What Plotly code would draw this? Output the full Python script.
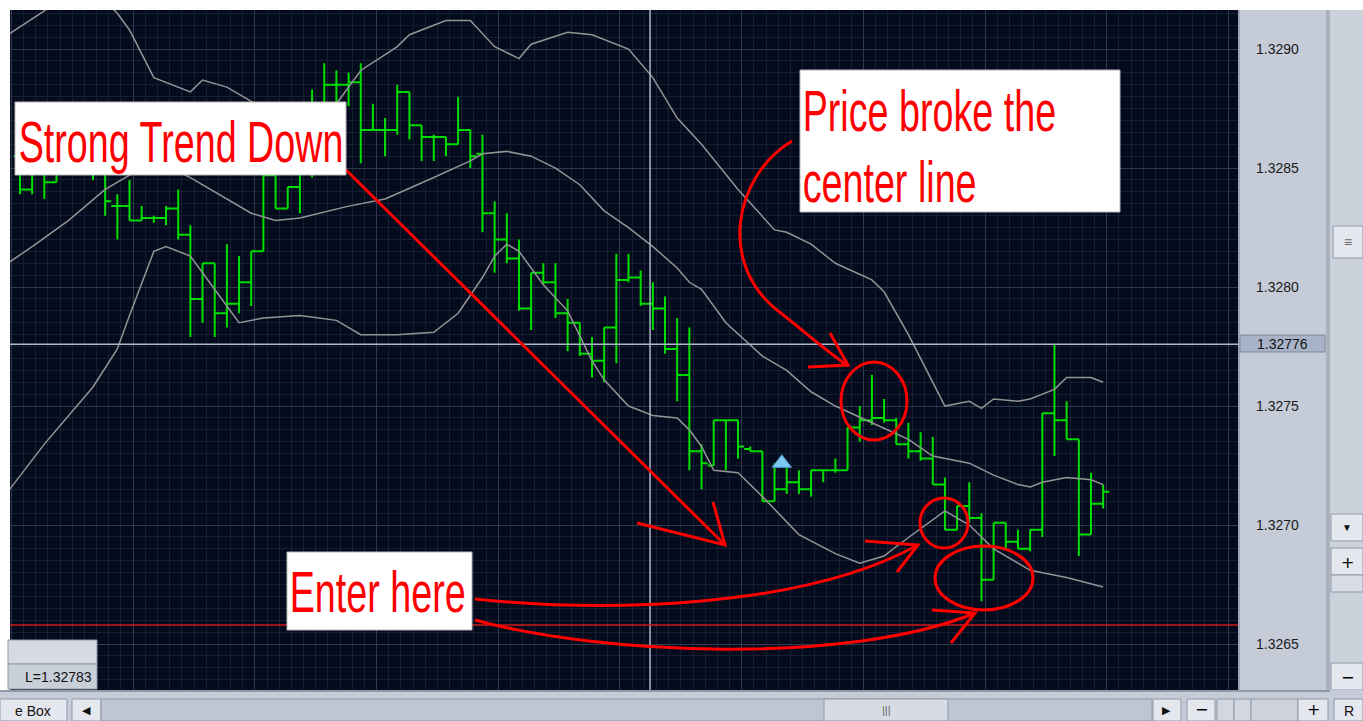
import plotly.graph_objects as go

# ---------------- data (prices) ----------------
bar_index = list(range(90))
opens = [1.32855, 1.32841, 1.32850, 1.32844, 1.32851, 1.32857, 1.32853, 1.32851, 1.32834, 1.32834,
         1.32828, 1.32829, 1.32829, 1.32833, 1.32822, 1.32795, 1.32810, 1.32789, 1.32793, 1.32802,
         1.32815, 1.32847, 1.32833, 1.32842, 1.32849, 1.32872, 1.32885, 1.32885, 1.32886, 1.32866,
         1.32866, 1.32866, 1.32882, 1.32868, 1.32863, 1.32863, 1.32860, 1.32866, 1.32856, 1.32831,
         1.32820, 1.32812, 1.32791, 1.32806, 1.32802, 1.32789, 1.32785, 1.32772, 1.32769, 1.32783,
         1.32803, 1.32804, 1.32793, 1.32791, 1.32774, 1.32763, 1.32731, 1.32725, 1.32744, 1.32744,
         1.32732, 1.32731, 1.32710, 1.32715, 1.32718, 1.32715, 1.32723, 1.32723, 1.32723, 1.32741,
         1.32744, 1.32745, 1.32744, 1.32734, 1.32731, 1.32728, 1.32717, 1.32698, 1.32708, 1.32703,
         1.32677, 1.32701, 1.32693, 1.32690, 1.32698, 1.32747, 1.32744, 1.32736, 1.32696, 1.32709]
highs = [1.32857, 1.32850, 1.32851, 1.32853, 1.32862, 1.32862, 1.32857, 1.32857, 1.32839, 1.32845,
         1.32834, 1.32830, 1.32834, 1.32841, 1.32826, 1.32810, 1.32810, 1.32818, 1.32813, 1.32815,
         1.32847, 1.32847, 1.32842, 1.32851, 1.32883, 1.32894, 1.32891, 1.32890, 1.32894, 1.32877,
         1.32871, 1.32885, 1.32882, 1.32868, 1.32864, 1.32863, 1.32880, 1.32866, 1.32864, 1.32836,
         1.32831, 1.32820, 1.32806, 1.32810, 1.32810, 1.32795, 1.32785, 1.32779, 1.32783, 1.32814,
         1.32814, 1.32807, 1.32802, 1.32796, 1.32787, 1.32783, 1.32734, 1.32744, 1.32744, 1.32744,
         1.32733, 1.32731, 1.32726, 1.32725, 1.32723, 1.32723, 1.32723, 1.32728, 1.32741, 1.32750,
         1.32763, 1.32753, 1.32745, 1.32743, 1.32739, 1.32737, 1.32720, 1.32708, 1.32718, 1.32705,
         1.32701, 1.32701, 1.32698, 1.32698, 1.32747, 1.32776, 1.32752, 1.32736, 1.32722, 1.32717]
lows = [1.32839, 1.32839, 1.32837, 1.32844, 1.32849, 1.32848, 1.32845, 1.32830, 1.32820, 1.32828,
        1.32828, 1.32827, 1.32826, 1.32820, 1.32779, 1.32785, 1.32779, 1.32783, 1.32789, 1.32792,
        1.32815, 1.32833, 1.32833, 1.32831, 1.32846, 1.32870, 1.32874, 1.32876, 1.32852, 1.32866,
        1.32855, 1.32864, 1.32862, 1.32853, 1.32853, 1.32855, 1.32860, 1.32850, 1.32823, 1.32806,
        1.32810, 1.32790, 1.32782, 1.32801, 1.32787, 1.32773, 1.32771, 1.32762, 1.32760, 1.32768,
        1.32802, 1.32792, 1.32782, 1.32772, 1.32752, 1.32723, 1.32715, 1.32725, 1.32723, 1.32728,
        1.32731, 1.32710, 1.32710, 1.32713, 1.32713, 1.32712, 1.32718, 1.32722, 1.32723, 1.32735,
        1.32742, 1.32743, 1.32734, 1.32728, 1.32727, 1.32717, 1.32698, 1.32698, 1.32701, 1.32668,
        1.32677, 1.32690, 1.32690, 1.32689, 1.32695, 1.32729, 1.32736, 1.32687, 1.32696, 1.32707]
closes = [1.32841, 1.32849, 1.32844, 1.32851, 1.32857, 1.32853, 1.32851, 1.32836, 1.32834, 1.32828,
          1.32829, 1.32829, 1.32833, 1.32822, 1.32795, 1.32810, 1.32789, 1.32793, 1.32802, 1.32815,
          1.32847, 1.32833, 1.32842, 1.32849, 1.32870, 1.32885, 1.32885, 1.32886, 1.32866, 1.32866,
          1.32866, 1.32882, 1.32868, 1.32863, 1.32863, 1.32860, 1.32866, 1.32855, 1.32831, 1.32820,
          1.32812, 1.32791, 1.32806, 1.32802, 1.32789, 1.32785, 1.32772, 1.32769, 1.32783, 1.32803,
          1.32804, 1.32793, 1.32791, 1.32774, 1.32763, 1.32731, 1.32726, 1.32744, 1.32744, 1.32733,
          1.32731, 1.32710, 1.32715, 1.32718, 1.32715, 1.32723, 1.32723, 1.32723, 1.32741, 1.32744,
          1.32745, 1.32744, 1.32734, 1.32731, 1.32728, 1.32717, 1.32698, 1.32708, 1.32703, 1.32677,
          1.32701, 1.32693, 1.32690, 1.32698, 1.32747, 1.32744, 1.32736, 1.32696, 1.32709, 1.32714]

upper_idx = [-1, 2, 4, 6, 8, 9, 11, 13, 14, 15, 17, 19, 22, 26, 28, 31, 32, 35, 37, 39,
             41, 42, 45, 47, 50, 52, 54, 56, 59, 62, 63, 65, 67, 70, 71, 73, 74, 75, 76, 78,
             79, 80, 82, 83, 85, 86, 88, 89]
upper_val = [1.32906, 1.32916, 1.32925, 1.32925, 1.32915, 1.32908, 1.32888, 1.32884, 1.32882, 1.32887,
             1.32884, 1.32878, 1.32871, 1.32877, 1.32891, 1.32901, 1.32906, 1.32912, 1.32912, 1.32901,
             1.32896, 1.32902, 1.32907, 1.32906, 1.32900, 1.32888, 1.32871, 1.32860, 1.32841, 1.32824,
             1.32823, 1.32818, 1.32810, 1.32803, 1.32798, 1.32780, 1.32770, 1.32760, 1.32750, 1.32752,
             1.32749, 1.32753, 1.32752, 1.32753, 1.32757, 1.32762, 1.32762, 1.32760]
mid_idx = [-1, 1, 4, 7, 9, 11, 14, 19, 21, 23, 27, 30, 34, 37, 38, 40, 42, 44, 46, 48,
           50, 52, 54, 55, 56, 58, 61, 63, 65, 67, 70, 73, 75, 78, 80, 82, 83, 84, 86, 88, 89]
mid_val = [1.32810, 1.32817, 1.32828, 1.32841, 1.32847, 1.32853, 1.32846, 1.32831, 1.32828, 1.32829,
           1.32834, 1.32837, 1.32846, 1.32853, 1.32856, 1.32857, 1.32855, 1.32850, 1.32843, 1.32832,
           1.32825, 1.32817, 1.32808, 1.32802, 1.32799, 1.32785, 1.32771, 1.32765, 1.32756, 1.32750,
           1.32743, 1.32736, 1.32729, 1.32726, 1.32721, 1.32717, 1.32716, 1.32718, 1.32720, 1.32719,
           1.32717]
lower_idx = [-1, 2, 6, 8, 9, 11, 12, 14, 15, 18, 20, 23, 26, 28, 31, 34, 36, 38, 39, 40,
             41, 43, 45, 47, 48, 50, 52, 54, 55, 56, 57, 59, 61, 64, 67, 69, 71, 72, 76, 78,
             80, 83, 86, 89]
lower_val = [1.32714, 1.32734, 1.32758, 1.32774, 1.32788, 1.32815, 1.32817, 1.32813, 1.32806, 1.32785,
             1.32787, 1.32788, 1.32786, 1.32780, 1.32780, 1.32781, 1.32789, 1.32804, 1.32813, 1.32818,
             1.32815, 1.32801, 1.32790, 1.32769, 1.32761, 1.32750, 1.32746, 1.32745, 1.32740, 1.32733,
             1.32723, 1.32722, 1.32712, 1.32696, 1.32688, 1.32684, 1.32687, 1.32691, 1.32706, 1.32700,
             1.32690, 1.32681, 1.32678, 1.32674]

signal_idx = [62.6]
signal_price = [1.32726]
crosshair_idx = 51.77
crosshair_price = 1.32776
stop_price = 1.32658
y_ticks = [1.3265, 1.3270, 1.3275, 1.3280, 1.3285, 1.3290]
y_tick_text = ["1.3265", "1.3270", "1.3275", "1.3280", "1.3285", "1.3290"]
info_text = "L=1.32783"
label_trend = "Strong Trend Down"
label_break_1 = "Price broke the"
label_break_2 = "center line"
label_enter = "Enter here"

# ---------------- layout geometry / style ----------------
W, H = 1363, 721
ML, MR, MT, MB = 10, 125, 10, 31
PW, PH = W - ML - MR, H - MT - MB


def X(px):
    return (px - ML) / PW


def Y(py):
    return (H - MB - py) / PH


GREEN = "#00e000"
BAND = "#949494"
BG = "#030b1d"
RED = "#ff0000"
PANEL = "#c6ccd7"
PANEL_DARK = "#8f99aa"
BTN = "#e4e7ed"
HAND = "Liberation Sans, Arial, sans-serif"
HAND_SIZE = 58
UI = "Liberation Sans, Arial, sans-serif"

fig = go.Figure()
fig.add_trace(go.Ohlc(x=bar_index, open=opens, high=highs, low=lows, close=closes,
                      increasing=dict(line=dict(color=GREEN, width=2)),
                      decreasing=dict(line=dict(color=GREEN, width=2)),
                      tickwidth=0.5, hoverinfo="skip", showlegend=False))
for xs, ys in [(upper_idx, upper_val), (mid_idx, mid_val), (lower_idx, lower_val)]:
    fig.add_trace(go.Scatter(x=xs, y=ys, mode="lines", line=dict(color=BAND, width=1.5),
                             hoverinfo="skip", showlegend=False))
fig.add_trace(go.Scatter(x=signal_idx, y=signal_price, mode="markers",
                         marker=dict(symbol="triangle-up", size=17, color="#7cc6f2",
                                     line=dict(color="#4b8cc4", width=1)),
                         hoverinfo="skip", showlegend=False))

shapes = []
# crosshair + stop line (drawn first so the label boxes cover them)
shapes.append(dict(type="line", xref="x", yref="paper", x0=crosshair_idx, x1=crosshair_idx, y0=0, y1=1,
                   line=dict(color="#aeb6ca", width=1.5), layer="above"))
shapes.append(dict(type="line", xref="paper", yref="y", x0=0, x1=1, y0=crosshair_price, y1=crosshair_price,
                   line=dict(color="#aeb6ca", width=1.5), layer="above"))
shapes.append(dict(type="line", xref="paper", yref="y", x0=0, x1=1, y0=stop_price, y1=stop_price,
                   line=dict(color="#cc1a1a", width=1.5), layer="above"))


def rect(x0, y0, x1, y1, fill, line=None, lw=1, layer="above"):
    shapes.append(dict(type="rect", xref="paper", yref="paper", x0=X(x0), x1=X(x1), y0=Y(y0), y1=Y(y1),
                       fillcolor=fill, line=dict(color=line or fill, width=lw if line else 0), layer=layer))


def path(d, width=3, color=RED):
    shapes.append(dict(type="path", xref="paper", yref="paper", path=d,
                       line=dict(color=color, width=width), layer="above"))


def pts(*p):
    return "M " + " L ".join(f"{X(a):.5f},{Y(b):.5f}" for a, b in p)


def curve(p0, c1, c2, p1):
    return (f"M {X(p0[0]):.5f},{Y(p0[1]):.5f} C {X(c1[0]):.5f},{Y(c1[1]):.5f} "
            f"{X(c2[0]):.5f},{Y(c2[1]):.5f} {X(p1[0]):.5f},{Y(p1[1]):.5f}")


def ellipse(cx, cy, rx, ry):
    shapes.append(dict(type="circle", xref="paper", yref="paper", x0=X(cx - rx), x1=X(cx + rx),
                       y0=Y(cy + ry), y1=Y(cy - ry), line=dict(color=RED, width=3), layer="above"))


# hand-drawn red markup
path(pts((340, 164), (725, 545)))
path(pts((637, 523), (725, 545), (713, 502)))
path(curve((792, 141), (735, 175), (715, 265), (782, 314)))
path(curve((782, 314), (805, 332), (825, 350), (848, 366)))
path(pts((808, 367), (848, 365), (830, 333)))
ellipse(874, 401, 33, 39)
ellipse(944, 523, 24, 25)
ellipse(984, 578, 49, 32)
path(curve((475, 599), (600, 612), (800, 610), (918, 545)))
path(pts((865, 541), (918, 545), (897, 572)))
path(curve((475, 620), (600, 655), (850, 665), (975, 613)))
path(pts((932, 610), (975, 613), (951, 643)))

# white label boxes
rect(15, 102, 346, 175, "white", "#b8b8b8")
rect(800, 70, 1120, 212, "white", "#b8b8b8")
rect(287, 552, 472, 630, "white", "#b8b8b8")

# bottom-left info box
rect(8, 640, 97, 664, "#d6dae2", PANEL_DARK)
rect(8, 664, 97, 689, "#c9cfd9", PANEL_DARK)

# right price panel (below so the axis labels stay visible) and scroll column
rect(1238, 10, 1326, 692, PANEL, layer="below")
rect(1240, 335, 1325, 352, "#a8b3c7", "#7c879b", layer="below")
shapes.append(dict(type="line", xref="paper", yref="paper", x0=X(1239), x1=X(1239), y0=Y(10), y1=Y(692),
                   line=dict(color=PANEL_DARK, width=1.5), layer="above"))
rect(1326, 10, 1330, 721, "#aab2c0")
rect(1330, 10, 1363, 692, "#ccd2dc")
rect(1333, 226, 1363, 258, BTN, PANEL_DARK)
rect(1331, 514, 1363, 541, BTN, PANEL_DARK)
rect(1331, 548, 1363, 575, BTN, PANEL_DARK)
rect(1331, 575, 1363, 592, "#d8dce4", PANEL_DARK)
rect(1331, 663, 1363, 690, BTN, PANEL_DARK)

# bottom scroll bar
rect(0, 690, 1363, 721, PANEL)
shapes.append(dict(type="line", xref="paper", yref="paper", x0=X(0), x1=X(1330), y0=Y(691), y1=Y(691),
                   line=dict(color=PANEL_DARK, width=2), layer="above"))
rect(0, 699, 67, 721, BTN, PANEL_DARK)
rect(72, 699, 101, 721, BTN, PANEL_DARK)
rect(101, 699, 1152, 721, "#bfc6d2", PANEL_DARK)
rect(824, 699, 948, 721, "#d7dbe3", PANEL_DARK)
rect(1153, 699, 1181, 721, BTN, PANEL_DARK)
rect(1187, 699, 1215, 721, BTN, PANEL_DARK)
rect(1217, 699, 1234, 721, "#d3d8e0", PANEL_DARK)
rect(1234, 699, 1251, 721, "#d3d8e0", PANEL_DARK)
rect(1251, 699, 1298, 721, "#cdd2db", PANEL_DARK)
rect(1298, 699, 1328, 721, BTN, PANEL_DARK)
rect(1334, 699, 1363, 721, BTN, PANEL_DARK)

ann = []


def text(x, y, s, size, color="#111111", family=UI, xanchor="center", yanchor="middle", **kw):
    ann.append(dict(xref="paper", yref="paper", x=X(x), y=Y(y), text=s, showarrow=False,
                    font=dict(size=size, color=color, family=family), xanchor=xanchor, yanchor=yanchor,
                    borderpad=0, **kw))


text(18, 141, label_trend, HAND_SIZE, RED, HAND, xanchor="left")
text(802, 110, label_break_1, HAND_SIZE, RED, HAND, xanchor="left")
text(802, 181, label_break_2, HAND_SIZE, RED, HAND, xanchor="left")
text(289, 591, label_enter, HAND_SIZE, RED, HAND, xanchor="left")
text(93, 677, info_text, 14, "#111111", UI, xanchor="right")
text(1283, 344, "1.32776", 14)
text(1348, 242, "≡", 14, "#666666")
text(1347, 527, "▼", 10)
text(1347, 562, "+", 16, "#000000", "DejaVu Sans")
text(1347, 677, "−", 16, "#000000", "DejaVu Sans")
text(33, 711, "e Box", 14, "#111111", UI)
text(86, 710, "◀", 11)
text(886, 710, "|||", 11, "#666666")
text(1166, 710, "▶", 11)
text(1201, 710, "−", 16, "#000000", "DejaVu Sans")
text(1313, 710, "+", 16, "#000000", "DejaVu Sans")
text(1349, 711, "R", 14)

fig.update_layout(
    width=W, height=H, margin=dict(l=ML, r=MR, t=MT, b=MB, pad=0),
    paper_bgcolor="white", plot_bgcolor=BG, showlegend=False,
    shapes=shapes, annotations=ann,
    xaxis=dict(range=[-0.82, 100.08], showticklabels=False, ticks="", zeroline=False,
               showgrid=True, tick0=9.3, dtick=10, gridcolor="#2f3a4f", gridwidth=1,
               minor=dict(tick0=9.3, dtick=1, showgrid=True, gridcolor="#151e33", gridwidth=1),
               rangeslider=dict(visible=False), fixedrange=True),
    yaxis=dict(range=[1.326307, 1.329164], side="right", zeroline=False, ticks="",
               tickvals=y_ticks, ticktext=y_tick_text, showgrid=True, gridcolor="#2f3a4f", gridwidth=1,
               minor=dict(tick0=1.3265, dtick=0.00005, showgrid=True, gridcolor="#151e33", gridwidth=1),
               tickfont=dict(size=14, color="#1a1a1a", family=UI), ticklabelstandoff=17, fixedrange=True),
)

# page without body margin; the hand-lettered labels use a narrow (condensed) rendering
post = """
document.documentElement.style.margin='0';
document.body.style.margin='0';
document.body.style.padding='0';
var gd = document.getElementById('{plot_id}');
function squeeze(){
  gd.querySelectorAll('text.annotation-text').forEach(function(t){
    if (t.style.fontSize === '%dpx') { t.setAttribute('transform', 'scale(0.65,1)'); }
  });
}
squeeze();
if (gd.on) { gd.on('plotly_afterplot', squeeze); }
""" % HAND_SIZE

fig.write_html("out.html", config={"displayModeBar": False}, post_script=post)
